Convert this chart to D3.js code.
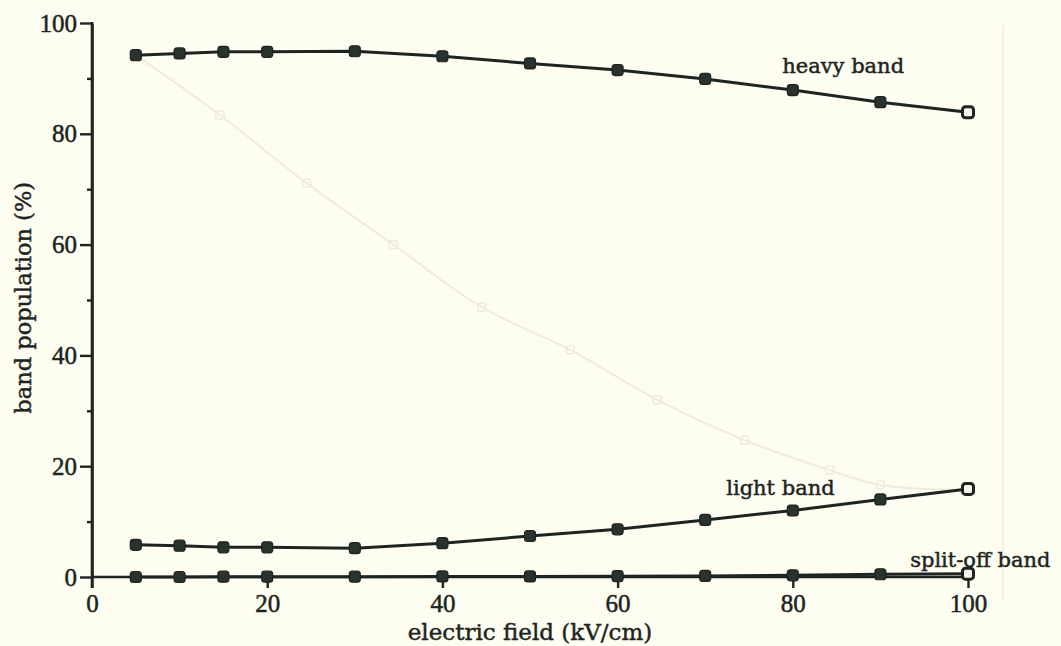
<!DOCTYPE html>
<html>
<head>
<meta charset="utf-8">
<title>band population</title>
<script src="https://cdnjs.cloudflare.com/ajax/libs/d3/7.8.5/d3.min.js"></script>
<style>
  body { margin: 0; background: #fdfdf1; }
  svg { display: block; }
</style>
</head>
<body>
<div id="wrapper"></div>
<script>
// data
const field = [5, 10, 15, 20, 30, 40, 50, 60, 70, 80, 90, 100];
const heavyBand = [94.2, 94.5, 94.8, 94.8, 94.9, 94.0, 92.7, 91.5, 89.9, 87.9, 85.7, 83.9];
const lightBand = [5.8, 5.65, 5.35, 5.35, 5.2, 6.1, 7.4, 8.6, 10.3, 12.0, 14.0, 15.9];
const splitOffBand = [0, 0, 0.05, 0.05, 0.05, 0.1, 0.1, 0.15, 0.2, 0.3, 0.5, 0.6];

// faint curve showing through from the other side of the page
const ghostField = [5, 14.6, 24.5, 34.4, 44.5, 54.6, 64.5, 74.5, 84.2, 90, 100];
const ghostValues = [94.2, 83.4, 71.1, 60, 48.7, 41, 32, 24.7, 19.3, 16.6, 15.7];

const xTicks = [0, 20, 40, 60, 80, 100];
const yTicks = [0, 20, 40, 60, 80, 100];
const yMinorTicks = [10, 30, 50, 70, 90];

const dimensions = { width: 1061, height: 646 };
const ink = "#1d2421";
const font = "'DejaVu Serif', serif";
const numFont = "'Liberation Serif', serif";

const svg = d3.select("#wrapper").append("svg")
  .attr("width", dimensions.width).attr("height", dimensions.height);

svg.append("rect").attr("width", dimensions.width).attr("height", dimensions.height).attr("fill", "#fdfdf1");

const xScale = d3.scaleLinear().domain([0, 100]).range([92, 968]);
const yScale = d3.scaleLinear().domain([0, 100]).range([577, 23]);

// ghost curve
const ghost = ghostField.map((x, i) => ({ x, y: ghostValues[i] }));
const ghostLine = d3.line().x(d => xScale(d.x)).y(d => yScale(d.y)).curve(d3.curveCatmullRom);
svg.append("path").attr("d", ghostLine(ghost)).attr("fill", "none")
  .attr("stroke", "#efecdd").attr("stroke-width", 2);
svg.append("g").selectAll("rect").data(ghost.slice(1)).join("rect")
  .attr("x", d => xScale(d.x) - 4).attr("y", d => yScale(d.y) - 4)
  .attr("width", 8).attr("height", 8).attr("rx", 2)
  .attr("fill", "none").attr("stroke", "#eeebdc").attr("stroke-width", 1.5);
svg.append("line").attr("x1", 1003).attr("x2", 1003).attr("y1", 25).attr("y2", 600)
  .attr("stroke", "#f2efe2").attr("stroke-width", 2);

// axes
const yAxis = svg.append("g").attr("transform", `translate(${xScale(0)},0)`)
  .call(d3.axisLeft(yScale).tickValues(yTicks).tickSize(12).tickSizeOuter(0).tickPadding(3));
const yMinor = svg.append("g").attr("transform", `translate(${xScale(0)},0)`)
  .call(d3.axisLeft(yScale).tickValues(yMinorTicks).tickSize(5).tickSizeOuter(0).tickFormat(""));
const xAxis = svg.append("g").attr("transform", `translate(0,${yScale(0)})`)
  .call(d3.axisBottom(xScale).tickValues(xTicks).tickSize(11).tickSizeOuter(0).tickPadding(6));

[yAxis, yMinor, xAxis].forEach(g => {
  g.select(".domain").attr("stroke", ink).attr("stroke-width", 2.6);
  g.selectAll(".tick line").attr("stroke", ink).attr("stroke-width", 2.4);
  g.selectAll(".tick text").attr("fill", ink).attr("stroke", ink).attr("stroke-width", 0.5)
    .style("font-family", numFont).style("font-size", "25px");
});
yAxis.select(".domain").attr("d", `M0,${yScale(100) - 1}V${yScale(0) + 11}`);
xAxis.select(".domain").attr("d", `M${xScale(0)},0H${xScale(100) + 2}`);

// series
const series = [heavyBand, lightBand, splitOffBand];
const lineGenerator = d3.line().x((d, i) => xScale(field[i])).y(d => yScale(d));

series.forEach(values => {
  svg.append("path").attr("d", lineGenerator(values)).attr("fill", "none")
    .attr("stroke", ink).attr("stroke-width", 3);
  svg.append("g").selectAll("rect").data(values).join("rect")
    .attr("x", (d, i) => xScale(field[i]) - 5.5).attr("y", d => yScale(d) - 5.5)
    .attr("width", 11).attr("height", 11).attr("rx", 3)
    .attr("fill", (d, i) => i === values.length - 1 ? "#f4f4e6" : "#2a322e")
    .attr("stroke", ink).attr("stroke-width", (d, i) => i === values.length - 1 ? 3 : 1.2);
});

// curve labels
const labels = [
  { text: "heavy band", x: 78.8, y: 91.0 },
  { text: "light band", x: 72.4, y: 14.8 },
  { text: "split-off band", x: 93.4, y: 1.8 }
];
svg.append("g").selectAll("text").data(labels).join("text")
  .attr("x", d => xScale(d.x)).attr("y", d => yScale(d.y))
  .attr("fill", ink).attr("stroke", ink).attr("stroke-width", 0.45)
  .style("font-family", font).style("font-size", "21px")
  .text(d => d.text);

// axis titles
svg.append("text").attr("x", (xScale(0) + xScale(100)) / 2).attr("y", 640)
  .attr("text-anchor", "middle").attr("fill", ink).attr("stroke", ink).attr("stroke-width", 0.45)
  .style("font-family", font).style("font-size", "23px")
  .text("electric field (kV/cm)");

svg.append("text").attr("transform", `translate(31,${yScale(50.4)}) rotate(-90)`)
  .attr("text-anchor", "middle").attr("fill", ink).attr("stroke", ink).attr("stroke-width", 0.45)
  .style("font-family", font).style("font-size", "22.5px")
  .text("band population (%)");
</script>
</body>
</html>
